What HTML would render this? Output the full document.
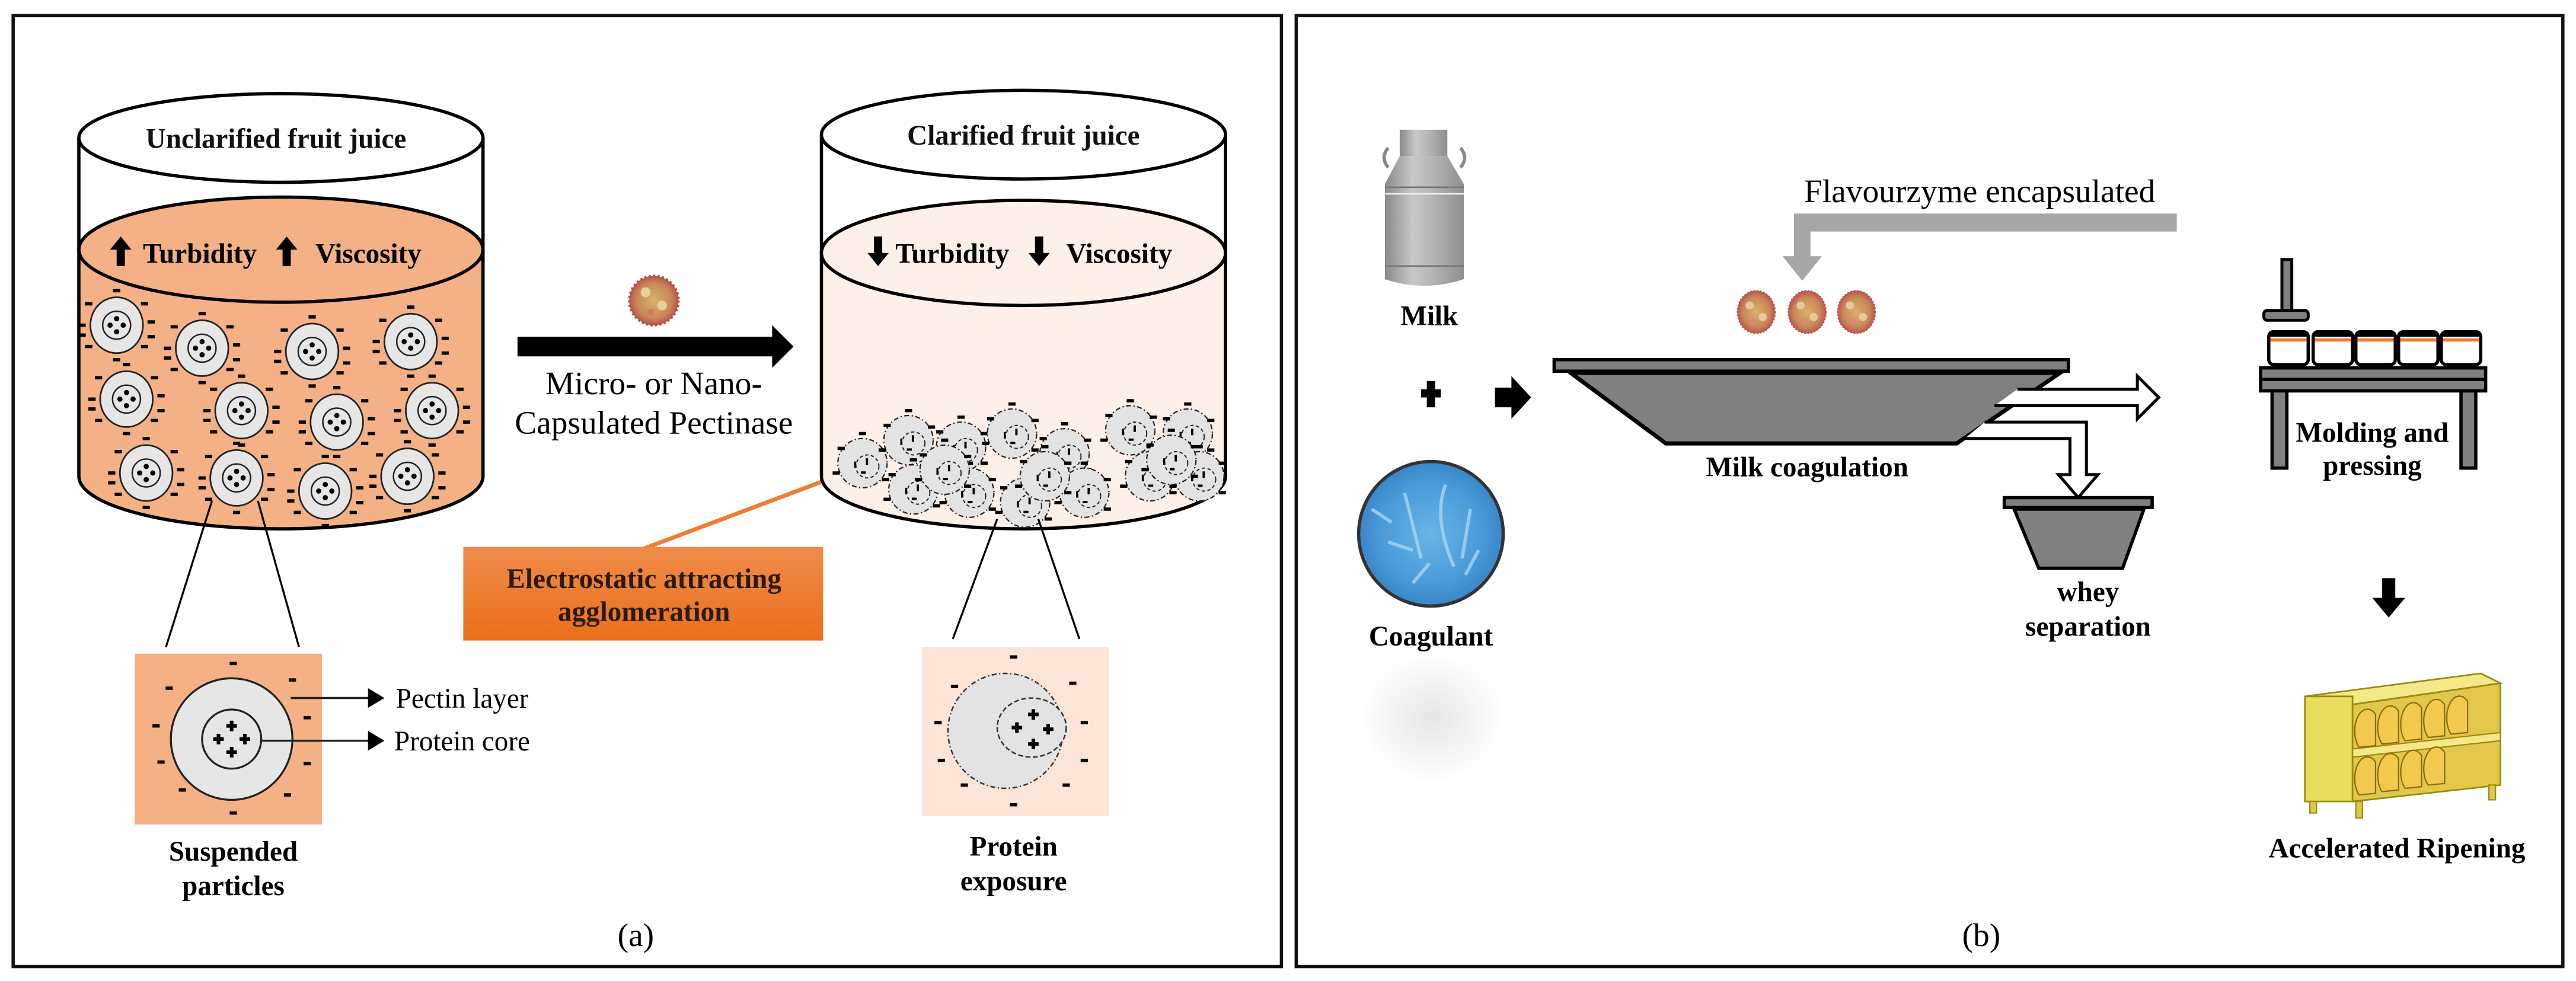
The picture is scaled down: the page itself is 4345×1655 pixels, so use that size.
<!DOCTYPE html>
<html><head><meta charset="utf-8"><style>
html,body{margin:0;padding:0;background:#fff;}
svg{display:block;}
text{font-family:"Liberation Serif",serif;}
</style></head><body>
<svg width="4345" height="1655" viewBox="0 0 1568 597.3" preserveAspectRatio="none" xmlns="http://www.w3.org/2000/svg">
<defs>
<g id="m"><rect x="-2.2" y="-1" width="4.4" height="2" fill="#000"/></g>
<g id="pl"><rect x="-1.1" y="-3.2" width="2.2" height="6.4" fill="#000"/><rect x="-3.2" y="-1.1" width="6.4" height="2.2" fill="#000"/></g>
<g id="p">
<ellipse cx="0" cy="0" rx="16" ry="17" fill="#e6e6e6" stroke="#222" stroke-width="1"/>
<circle cx="0" cy="0" r="8.5" fill="#e6e6e6" stroke="#222" stroke-width="0.9"/>
<circle cx="0" cy="-4" r="1.6"/><circle cx="-4" cy="0" r="1.6"/><circle cx="4" cy="0" r="1.6"/><circle cx="0" cy="4" r="1.6"/>
<use href="#m" x="0" y="-21"/><use href="#m" x="-17" y="-13"/><use href="#m" x="17" y="-13"/><use href="#m" x="-21" y="0"/><use href="#m" x="21" y="-2"/><use href="#m" x="-17" y="13"/><use href="#m" x="17" y="13"/><use href="#m" x="0" y="21"/><use href="#m" x="-21" y="6"/><use href="#m" x="21" y="7"/>
</g>
<g id="q">
<circle cx="0" cy="0" r="15" fill="#e3e3e3" stroke="#222" stroke-width="0.8" stroke-dasharray="3,1.5,0.8,1.5"/>
<circle cx="3" cy="2" r="7" fill="none" stroke="#222" stroke-width="0.7" stroke-dasharray="2,1.5"/>
<use href="#m" x="0" y="-18"/><use href="#m" x="-13" y="-9"/><use href="#m" x="14" y="-8"/><use href="#m" x="-16" y="6"/><use href="#m" x="14" y="10"/>
<rect x="2" y="-3" width="1.4" height="4" fill="#000"/><rect x="-1" y="5" width="3" height="1.4" fill="#000"/><rect x="-5" y="-1" width="1.2" height="4" fill="#000"/>
</g>
<radialGradient id="vir"><stop offset="0" stop-color="#d8b36a"/><stop offset="0.7" stop-color="#c9875a"/><stop offset="1" stop-color="#b8584a"/></radialGradient>
<g id="cap"><ellipse cx="0" cy="0" rx="11.5" ry="13" fill="url(#vir)" stroke="#c0504d" stroke-width="0.8" stroke-dasharray="1,1"/>
<circle cx="-4" cy="-4" r="2.5" fill="#e6c89a"/><circle cx="4" cy="3" r="2.5" fill="#e6c89a"/><circle cx="-2" cy="6" r="2" fill="#d98a70"/></g>
<linearGradient id="og" x1="0" y1="0" x2="0" y2="1"><stop offset="0" stop-color="#f08b4a"/><stop offset="1" stop-color="#ea6f1a"/></linearGradient>
<radialGradient id="blue"><stop offset="0" stop-color="#6ab4e6"/><stop offset="0.7" stop-color="#4a9ad8"/><stop offset="1" stop-color="#3a86c8"/></radialGradient>
<linearGradient id="can" x1="0" y1="0" x2="1" y2="0"><stop offset="0" stop-color="#8a8a8a"/><stop offset="0.35" stop-color="#c8c8c8"/><stop offset="0.6" stop-color="#b5b5b5"/><stop offset="1" stop-color="#8e8e8e"/></linearGradient>
<radialGradient id="shd"><stop offset="0" stop-color="#e6e6e6"/><stop offset="1" stop-color="#fff"/></radialGradient>
</defs>

<rect x="8" y="9.5" width="772" height="579" fill="none" stroke="#111" stroke-width="2"/>
<rect x="789" y="9.5" width="771" height="579" fill="none" stroke="#111" stroke-width="2"/>

<!-- LEFT CYLINDER -->
<path d="M48,152 L48,290 A123,32 0 0 0 294,290 L294,152 Z" fill="#f4b185" stroke="#000" stroke-width="2"/>
<path d="M48,84 L48,152 M294,84 L294,152" stroke="#000" stroke-width="2"/>
<ellipse cx="171" cy="152" rx="123" ry="32" fill="#f4b185" stroke="#000" stroke-width="2"/>
<ellipse cx="171" cy="84" rx="123" ry="27" fill="#fff" stroke="#000" stroke-width="2"/>
<text x="168" y="90" font-size="17" text-anchor="middle" font-weight="bold" fill="#111">Unclarified fruit juice</text>
<path d="M71,162 v-10 h-4 l6.5,-8 l6.5,8 h-4 v10 Z" fill="#000"/>
<text x="87" y="160" font-size="17" font-weight="bold">Turbidity</text>
<path d="M172,162 v-10 h-4 l6.5,-8 l6.5,8 h-4 v10 Z" fill="#000"/>
<text x="192" y="160" font-size="17" font-weight="bold">Viscosity</text>
<use href="#p" x="71" y="198"/><use href="#p" x="123" y="212"/><use href="#p" x="190" y="214"/><use href="#p" x="250" y="208"/>
<use href="#p" x="77" y="243"/><use href="#p" x="147" y="250"/><use href="#p" x="205" y="257"/><use href="#p" x="263" y="250"/>
<use href="#p" x="89" y="288"/><use href="#p" x="144" y="291"/><use href="#p" x="198" y="299"/><use href="#p" x="248" y="290"/>
<line x1="129" y1="305" x2="101" y2="394" stroke="#000" stroke-width="1.2"/>
<line x1="157" y1="305" x2="182" y2="394" stroke="#000" stroke-width="1.2"/>
<rect x="82" y="398" width="114" height="104" fill="#f4b185"/>
<ellipse cx="141" cy="450" rx="37" ry="37" fill="#e6e6e6" stroke="#222" stroke-width="1.2"/>
<ellipse cx="141" cy="450" rx="18" ry="18" fill="#e6e6e6" stroke="#222" stroke-width="1.2"/>
<use href="#pl" x="141" y="442"/><use href="#pl" x="133" y="450"/><use href="#pl" x="149" y="450"/><use href="#pl" x="141" y="458"/>
<use href="#m" x="142" y="404"/><use href="#m" x="103" y="419"/><use href="#m" x="178" y="414"/><use href="#m" x="95" y="442"/><use href="#m" x="187" y="437"/><use href="#m" x="98" y="464"/><use href="#m" x="187" y="465"/><use href="#m" x="111" y="481"/><use href="#m" x="175" y="484"/><use href="#m" x="142" y="495"/>
<line x1="177" y1="425" x2="228" y2="425" stroke="#222" stroke-width="1.3"/>
<path d="M224,419 L234,425 L224,431 Z" fill="#000"/>
<text x="241" y="431" font-size="17">Pectin layer</text>
<line x1="159" y1="451" x2="228" y2="451" stroke="#222" stroke-width="1.3"/>
<path d="M224,445 L234,451 L224,457 Z" fill="#000"/>
<text x="240" y="457" font-size="17">Protein core</text>
<text x="142" y="524" font-size="17" font-weight="bold" text-anchor="middle">Suspended</text>
<text x="142" y="545" font-size="17" font-weight="bold" text-anchor="middle">particles</text>

<circle cx="398" cy="183" r="15" fill="url(#vir)" stroke="#b04a3a" stroke-width="1.5" stroke-dasharray="1.2,1.5"/>
<circle cx="393" cy="178" r="3" fill="#e8cf9a"/><circle cx="403" cy="186" r="3" fill="#e8cf9a"/><circle cx="396" cy="190" r="2" fill="#d07a5a"/>
<path d="M315,205 L470,205 L470,198 L483,211 L470,224 L470,217 L315,217 Z" fill="#000"/>
<text x="398" y="240" font-size="20" text-anchor="middle">Micro- or Nano-</text>
<text x="398" y="264" font-size="20" text-anchor="middle">Capsulated Pectinase</text>
<line x1="392" y1="334" x2="501" y2="293" stroke="#ed7d31" stroke-width="2.5"/>
<rect x="282" y="333" width="219" height="57" fill="url(#og)"/>
<text x="392" y="358" font-size="17" font-weight="bold" text-anchor="middle" fill="#2a1a10">Electrostatic attracting</text>
<text x="392" y="378" font-size="17" font-weight="bold" text-anchor="middle" fill="#2a1a10">agglomeration</text>

<!-- RIGHT CYLINDER -->
<path d="M500,154 L500,290 A123,32 0 0 0 746,290 L746,154 Z" fill="#fdf0e8" stroke="#000" stroke-width="2"/>
<path d="M500,82 L500,154 M746,82 L746,154" stroke="#000" stroke-width="2"/>
<ellipse cx="623" cy="154" rx="123" ry="32" fill="#fdf0e8" stroke="#000" stroke-width="2"/>
<ellipse cx="623" cy="82" rx="123" ry="27" fill="#fff" stroke="#000" stroke-width="2"/>
<text x="623" y="88" font-size="17" text-anchor="middle" font-weight="bold" fill="#111">Clarified fruit juice</text>
<path d="M532,144 v10 h-4 l6.5,8 l6.5,-8 h-4 v-10 Z" fill="#000"/>
<text x="545" y="160" font-size="17" font-weight="bold">Turbidity</text>
<path d="M630,144 v10 h-4 l6.5,8 l6.5,-8 h-4 v-10 Z" fill="#000"/>
<text x="649" y="160" font-size="17" font-weight="bold">Viscosity</text>
<use href="#q" x="525" y="282"/><use href="#q" x="553" y="268"/><use href="#q" x="585" y="272"/><use href="#q" x="616" y="264"/><use href="#q" x="648" y="276"/><use href="#q" x="688" y="262"/><use href="#q" x="723" y="264"/>
<use href="#q" x="556" y="298"/><use href="#q" x="590" y="300"/><use href="#q" x="624" y="306"/><use href="#q" x="660" y="300"/><use href="#q" x="700" y="290"/><use href="#q" x="730" y="290"/><use href="#q" x="575" y="286"/><use href="#q" x="636" y="290"/><use href="#q" x="713" y="280"/>
<line x1="607" y1="316" x2="580" y2="389" stroke="#000" stroke-width="1.2"/>
<line x1="632" y1="316" x2="657" y2="389" stroke="#000" stroke-width="1.2"/>
<rect x="561" y="394" width="114" height="103" fill="#fce4d6"/>
<circle cx="612" cy="445" r="35" fill="#e3e3e3" stroke="#333" stroke-width="0.9" stroke-dasharray="3,1.5,0.8,1.5"/>
<ellipse cx="628" cy="443" rx="21" ry="18" fill="#e3e3e3" stroke="#333" stroke-width="0.9" stroke-dasharray="3,1.5"/>
<use href="#pl" x="629" y="435"/><use href="#pl" x="619" y="443"/><use href="#pl" x="638" y="444"/><use href="#pl" x="629" y="453"/>
<use href="#m" x="617" y="400"/><use href="#m" x="581" y="418"/><use href="#m" x="653" y="416"/><use href="#m" x="571" y="440"/><use href="#m" x="660" y="440"/><use href="#m" x="573" y="463"/><use href="#m" x="660" y="463"/><use href="#m" x="587" y="478"/><use href="#m" x="649" y="478"/><use href="#m" x="617" y="490"/>
<text x="617" y="521" font-size="17" font-weight="bold" text-anchor="middle">Protein</text>
<text x="617" y="542" font-size="17" font-weight="bold" text-anchor="middle">exposure</text>
<text x="387" y="576" font-size="20" text-anchor="middle">(a)</text>

<!-- RIGHT PANEL -->
<rect x="852" y="79" width="29" height="16" fill="url(#can)"/>
<path d="M852,95 L843,112 L843,170 Q867,178 891,170 L891,112 L881,95 Z" fill="url(#can)"/>
<line x1="843" y1="114" x2="891" y2="114" stroke="#777" stroke-width="1"/>
<line x1="843" y1="118" x2="891" y2="118" stroke="#eee" stroke-width="1"/>
<line x1="843" y1="162" x2="891" y2="162" stroke="#777" stroke-width="1"/>
<path d="M845,102 q-5,-6 0,-12" stroke="#888" stroke-width="2" fill="none"/>
<path d="M889,102 q5,-6 0,-12" stroke="#888" stroke-width="2" fill="none"/>
<text x="870" y="198" font-size="17" font-weight="bold" text-anchor="middle">Milk</text>
<g fill="#000"><rect x="868.5" y="232" width="5" height="16"/><rect x="865" y="237" width="12" height="5"/></g>
<path d="M910,236 h10 v-7 l12,13 l-12,13 v-7 h-10 Z" fill="#000"/>
<circle cx="871" cy="325" r="44" fill="url(#blue)" stroke="#333" stroke-width="2"/>
<path d="M855,300 l10,40 M880,295 q-8,20 5,50 M895,310 l-5,30 M845,330 l15,5 M860,355 l10,-12 M835,310 l12,8 M900,335 l-8,15" stroke="#a8d6f4" stroke-width="2" fill="none" opacity="0.8"/>
<text x="871" y="393" font-size="17" font-weight="bold" text-anchor="middle">Coagulant</text>
<ellipse cx="872" cy="437" rx="45" ry="40" fill="url(#shd)"/>

<text x="1205" y="123" font-size="20" text-anchor="middle">Flavourzyme encapsulated</text>
<path d="M1325,130 L1092,130 L1092,156 L1085,156 L1097,171 L1109,156 L1102,156 L1102,141 L1325,141 Z" fill="#a6a6a6"/>
<use href="#cap" x="1069" y="190"/><use href="#cap" x="1100" y="190"/><use href="#cap" x="1130" y="190"/>
<rect x="946" y="219" width="313" height="7" fill="#808080" stroke="#000" stroke-width="2"/>
<path d="M956,227 L1254,227 L1191,270 L1014,270 Z" fill="#808080" stroke="#000" stroke-width="2.5"/>
<text x="1100" y="290" font-size="17" font-weight="bold" text-anchor="middle">Milk coagulation</text>
<path d="M1228,237 L1301,237 L1301,229 L1314,242 L1301,255 L1301,247 L1214,247" fill="#fff" stroke="#000" stroke-width="1.8"/>
<path d="M1208,257 L1270,257 L1270,289 L1277,289 L1265,303 L1253,289 L1260,289 L1260,267 L1196,267" fill="#fff" stroke="#000" stroke-width="1.8"/>
<rect x="1220" y="303" width="90" height="6" fill="#808080" stroke="#000" stroke-width="2"/>
<path d="M1226,310 L1305,310 L1292,346 L1241,346 Z" fill="#808080" stroke="#000" stroke-width="2"/>
<text x="1271" y="366" font-size="17" font-weight="bold" text-anchor="middle">whey</text>
<text x="1271" y="387" font-size="17" font-weight="bold" text-anchor="middle">separation</text>
<rect x="1389" y="158" width="6" height="31" fill="#808080" stroke="#000" stroke-width="1.8"/>
<rect x="1378" y="189" width="27" height="6" rx="2" fill="#808080" stroke="#000" stroke-width="1.8"/>
<g stroke="#000" stroke-width="2" fill="#fff">
<rect x="1381" y="202" width="24" height="20" rx="3"/><rect x="1408" y="202" width="24" height="20" rx="3"/><rect x="1434" y="202" width="24" height="20" rx="3"/><rect x="1460" y="202" width="24" height="20" rx="3"/><rect x="1486" y="202" width="24" height="20" rx="3"/>
</g>
<g fill="#000"><rect x="1381" y="202" width="24" height="3"/><rect x="1408" y="202" width="24" height="3"/><rect x="1434" y="202" width="24" height="3"/><rect x="1460" y="202" width="24" height="3"/><rect x="1486" y="202" width="24" height="3"/></g>
<g fill="#ed7d31"><rect x="1382" y="206" width="22" height="2"/><rect x="1409" y="206" width="22" height="2"/><rect x="1435" y="206" width="22" height="2"/><rect x="1461" y="206" width="22" height="2"/><rect x="1487" y="206" width="22" height="2"/></g>
<rect x="1376" y="224" width="137" height="14" fill="#808080" stroke="#000" stroke-width="2"/>
<line x1="1376" y1="231" x2="1513" y2="231" stroke="#000" stroke-width="2"/>
<rect x="1383" y="238" width="9" height="47" fill="#808080" stroke="#000" stroke-width="2"/>
<rect x="1498" y="238" width="9" height="47" fill="#808080" stroke="#000" stroke-width="2"/>
<text x="1444" y="269" font-size="17" font-weight="bold" text-anchor="middle">Molding and</text>
<text x="1444" y="289" font-size="17" font-weight="bold" text-anchor="middle">pressing</text>
<path d="M1450,352 h8 v12 h6 l-10,12 l-10,-12 h6 Z" fill="#000"/>
<!-- shelf -->
<path d="M1403,424 L1510,410 L1522,416 L1432,429 Z" fill="#f4e88a" stroke="#9a8a10" stroke-width="1"/>
<rect x="1403" y="424" width="29" height="64" fill="#e8dc60" stroke="#9a8a10" stroke-width="1"/>
<path d="M1432,429 L1522,416 L1522,478 L1432,488 Z" fill="#e2c84a" stroke="#9a8a10" stroke-width="1"/>
<path d="M1432,456 L1522,446 L1522,451 L1432,461 Z" fill="#f4e88a" stroke="#9a8a10" stroke-width="0.8"/>
<g fill="#f2c94c" stroke="#8a6a10" stroke-width="0.8">
<path d="M1436,455 a7,12 0 0 1 10,-20 v19Z"/><path d="M1450,453 a7,12 0 0 1 10,-20 v19Z"/><path d="M1464,451 a7,12 0 0 1 10,-20 v19Z"/><path d="M1478,449 a7,12 0 0 1 10,-20 v19Z"/><path d="M1492,447 a7,12 0 0 1 10,-20 v19Z"/>
<path d="M1436,484 a7,12 0 0 1 10,-20 v19Z"/><path d="M1450,482 a7,12 0 0 1 10,-20 v19Z"/><path d="M1464,480 a7,12 0 0 1 10,-20 v19Z"/><path d="M1478,478 a7,12 0 0 1 10,-20 v19Z"/>
</g>
<g fill="#e2c84a" stroke="#9a8a10" stroke-width="0.8"><rect x="1406" y="488" width="4" height="7"/><rect x="1434" y="488" width="4" height="10"/><rect x="1515" y="478" width="4" height="9"/></g>
<text x="1459" y="522" font-size="17" font-weight="bold" text-anchor="middle">Accelerated Ripening</text>
<text x="1206" y="576" font-size="20" text-anchor="middle">(b)</text>
</svg>
</body></html>
